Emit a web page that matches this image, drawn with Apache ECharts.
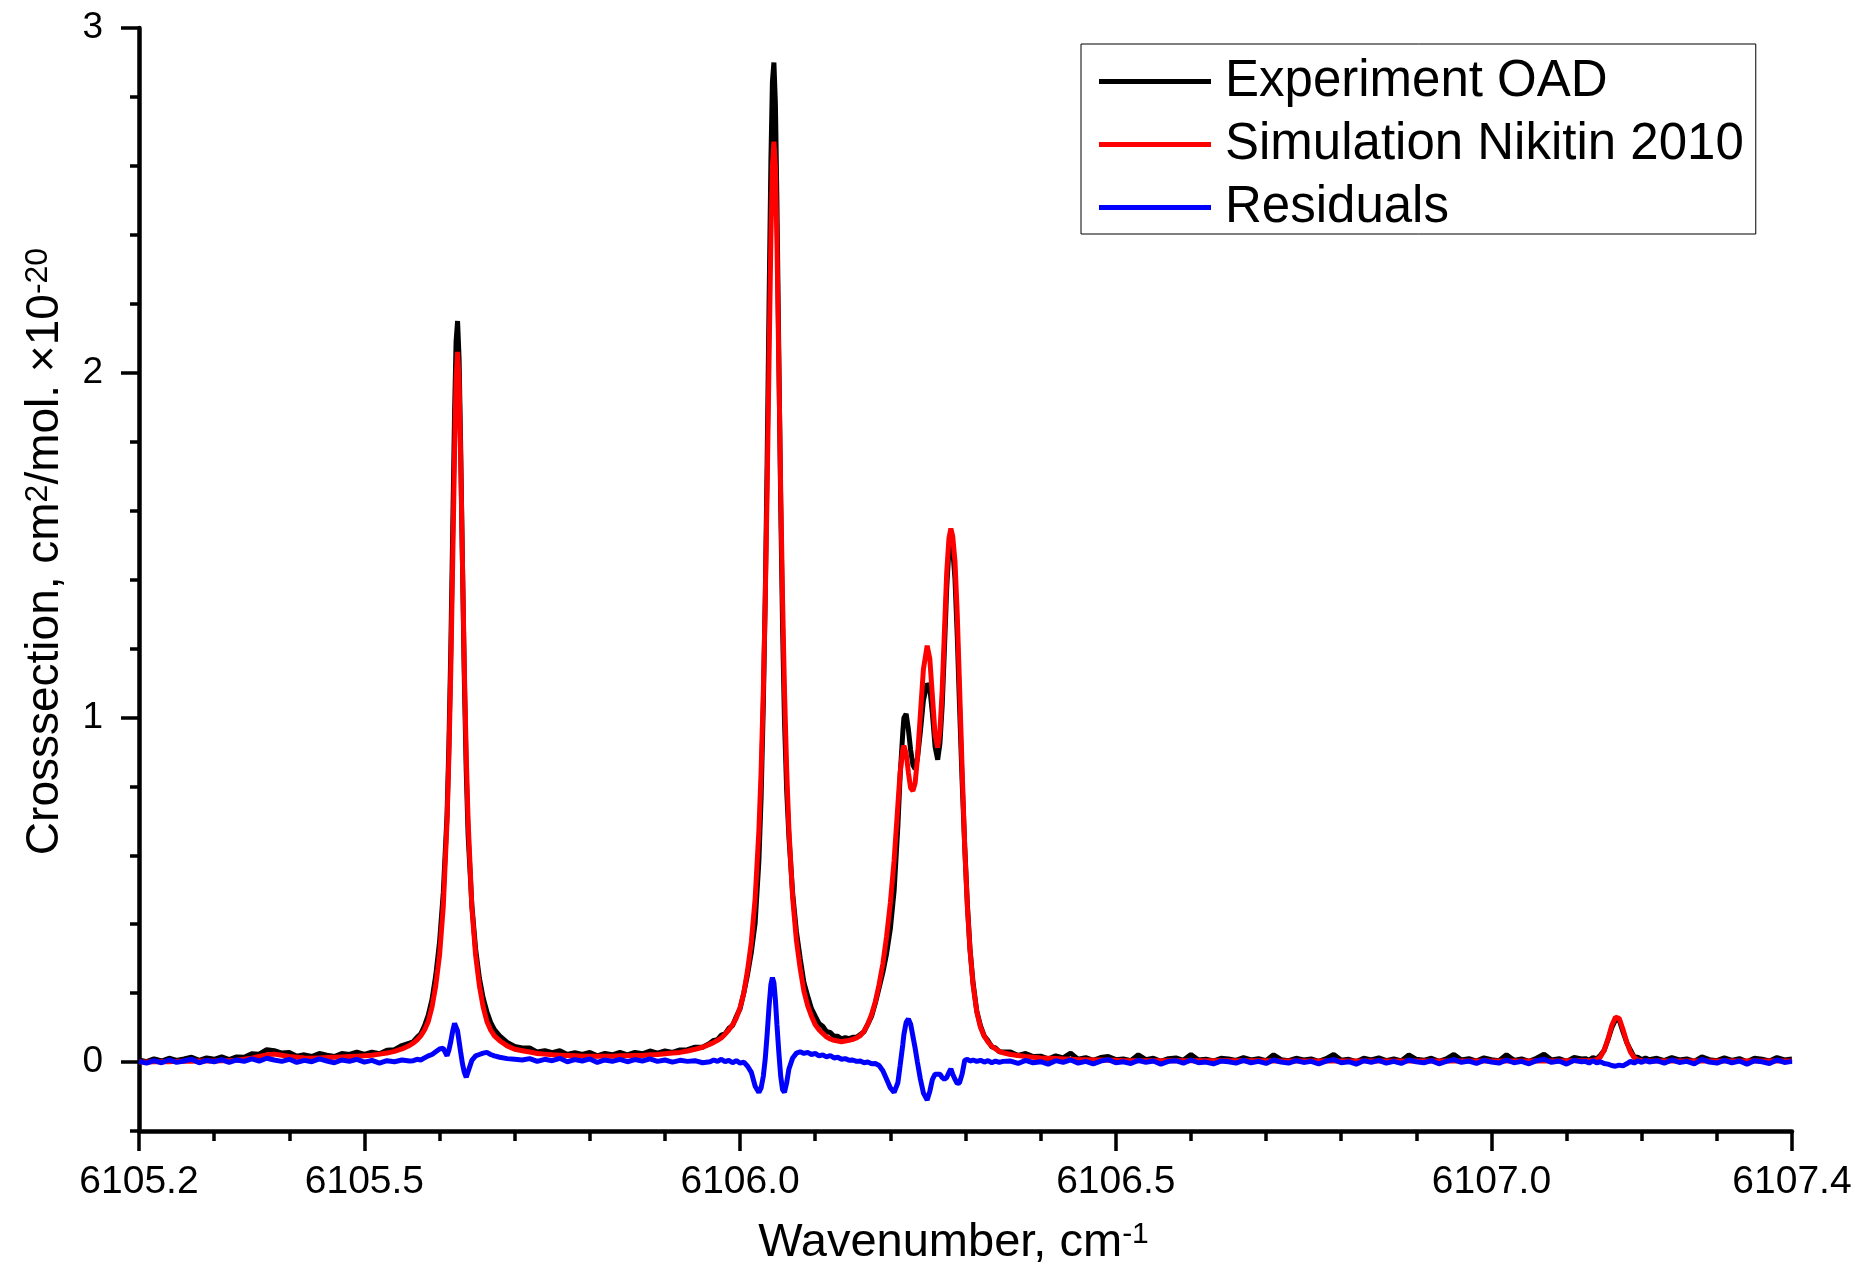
<!DOCTYPE html>
<html>
<head>
<meta charset="utf-8">
<script src="https://cdn.jsdelivr.net/npm/echarts@6/dist/echarts.min.js"></script>
<style>
html,body{margin:0;padding:0;background:#fff;}
#chart{width:1864px;height:1268px;}
</style>
</head>
<body>
<div id="chart"></div>
<script>
// ---------- data ----------
const wavenumber = [
 6105.20,6105.21,6105.22,6105.23,6105.24,6105.25,6105.26,6105.27,6105.28,6105.29,
 6105.30,6105.31,6105.32,6105.33,6105.34,6105.35,6105.36,6105.37,6105.38,6105.39,
 6105.40,6105.41,6105.42,6105.43,6105.44,6105.45,6105.46,6105.47,6105.48,6105.49,
 6105.50,6105.51,6105.52,6105.53,6105.54,6105.55,6105.56,
 6105.565,6105.570,6105.575,6105.580,6105.585,6105.590,6105.595,6105.600,6105.605,6105.610,
 6105.6125,6105.615,6105.6175,6105.620,6105.622,6105.624,6105.626,6105.628,6105.6305,6105.633,
 6105.6355,6105.638,6105.643,6105.648,6105.653,6105.658,6105.663,6105.668,6105.673,6105.680,
 6105.690,6105.700,
 6105.71,6105.72,6105.73,6105.74,6105.75,6105.76,6105.77,6105.78,6105.79,6105.80,
 6105.81,6105.82,6105.83,6105.84,6105.85,6105.86,6105.87,6105.88,6105.89,6105.90,
 6105.91,6105.92,6105.93,6105.94,6105.95,6105.96,
 6105.965,6105.970,6105.975,6105.980,6105.985,6105.990,6105.995,6106.000,
 6106.005,6106.010,6106.015,6106.020,6106.025,
 6106.028,6106.031,6106.0335,6106.036,6106.0385,6106.041,6106.043,6106.045,6106.047,6106.049,6106.0515,6106.054,6106.0565,6106.059,6106.062,6106.065,
 6106.070,6106.075,6106.080,6106.085,6106.090,6106.095,6106.100,6106.105,6106.110,6106.115,
 6106.120,6106.125,6106.130,6106.135,6106.140,6106.145,6106.150,6106.155,6106.160,6106.165,
 6106.170,6106.175,6106.180,6106.185,6106.190,6106.195,6106.200,6106.205,6106.210,
 6106.213,6106.2165,6106.218,6106.221,6106.224,6106.227,6106.230,6106.233,6106.236,6106.240,6106.244,6106.249,6106.2525,6106.256,6106.2595,6106.263,
 6106.266,6106.269,6106.272,6106.275,6106.278,6106.2805,6106.283,6106.286,6106.289,6106.292,6106.2955,6106.299,6106.3025,6106.306,6106.310,
 6106.315,6106.320,6106.325,6106.330,6106.335,6106.340,6106.345,6106.350,
 6106.36,6106.37,6106.38,6106.39,6106.40,6106.41,6106.42,6106.43,6106.44,6106.45,
 6106.46,6106.47,6106.48,6106.49,6106.50,6106.51,6106.52,6106.53,6106.54,6106.55,
 6106.56,6106.57,6106.58,6106.59,6106.60,6106.61,6106.62,6106.63,6106.64,6106.65,
 6106.66,6106.67,6106.68,6106.69,6106.70,6106.71,6106.72,6106.73,6106.74,6106.75,
 6106.76,6106.77,6106.78,6106.79,6106.80,6106.81,6106.82,6106.83,6106.84,6106.85,
 6106.86,6106.87,6106.88,6106.89,6106.90,6106.91,6106.92,6106.93,6106.94,6106.95,
 6106.96,6106.97,6106.98,6106.99,6107.00,6107.01,6107.02,6107.03,6107.04,6107.05,
 6107.06,6107.07,6107.08,6107.09,6107.10,6107.11,6107.12,
 6107.125,6107.130,6107.135,6107.140,6107.145,6107.150,6107.155,6107.160,6107.165,6107.170,
 6107.175,6107.180,6107.185,6107.190,6107.195,6107.200,6107.205,6107.210,
 6107.22,6107.23,6107.24,6107.25,6107.26,6107.27,6107.28,6107.29,6107.30,6107.31,
 6107.32,6107.33,6107.34,6107.35,6107.36,6107.37,6107.38,6107.39,6107.40
];

const experimentOAD = [
 0.006,0.001,0.009,0.003,0.011,0.005,0.009,0.014,0.005,0.012,
 0.008,0.015,0.007,0.015,0.014,0.024,0.023,0.036,0.033,0.026,
 0.028,0.017,0.021,0.016,0.025,0.020,0.016,0.025,0.022,0.029,
 0.022,0.029,0.024,0.034,0.036,0.048,0.055,
 0.059,0.072,0.082,0.105,0.136,0.182,0.252,0.348,0.492,0.718,
 0.925,1.200,1.540,1.882,2.090,2.150,2.040,1.800,1.445,1.110,
 0.846,0.660,0.455,0.328,0.244,0.186,0.146,0.115,0.094,0.076,
 0.057,0.045,
 0.041,0.041,0.029,0.033,0.027,0.033,0.022,0.027,0.022,0.028,
 0.018,0.025,0.021,0.028,0.021,0.028,0.024,0.032,0.026,0.032,
 0.028,0.035,0.036,0.043,0.043,0.055,
 0.063,0.065,0.078,0.082,0.098,0.106,0.132,0.155,
 0.201,0.255,0.319,0.403,0.582,
 0.770,1.043,1.352,1.743,2.190,2.614,2.844,2.900,2.780,2.500,2.060,1.625,1.265,0.997,0.788,0.653,
 0.488,0.378,0.301,0.230,0.191,0.155,0.133,0.112,0.104,0.088,
 0.086,0.075,0.075,0.067,0.071,0.068,0.072,0.072,0.080,0.088,
 0.110,0.133,0.171,0.215,0.260,0.315,0.387,0.497,0.685,
 0.830,0.955,0.998,1.010,0.965,0.905,0.862,0.850,0.880,0.960,1.050,1.098,1.085,1.010,0.915,0.877,
 0.925,1.035,1.200,1.375,1.490,1.528,1.490,1.402,1.238,1.036,0.815,0.625,0.458,0.328,0.231,
 0.148,0.105,0.075,0.062,0.044,0.041,0.030,0.029,
 0.029,0.019,0.025,0.016,0.017,0.009,0.018,0.012,0.026,0.008,
 0.013,0.005,0.013,0.016,0.007,0.009,0.004,0.021,0.007,0.011,
 0.002,0.010,0.012,0.005,0.022,0.006,0.008,0.003,0.011,0.009,
 0.005,0.013,0.006,0.010,0.004,0.021,0.007,0.004,0.011,0.006,
 0.009,0.002,0.010,0.022,0.005,0.008,0.001,0.011,0.006,0.012,
 0.004,0.009,0.003,0.021,0.008,0.005,0.011,0.002,0.009,0.022,
 0.006,0.010,0.003,0.012,0.007,0.004,0.021,0.005,0.009,0.002,
 0.011,0.023,0.006,0.010,0.002,0.013,0.009,
 0.010,0.005,0.013,0.009,0.020,0.034,0.064,0.099,0.122,0.122,
 0.088,0.057,0.035,0.014,0.014,0.007,0.012,0.007,
 0.011,0.004,0.013,0.006,0.009,0.002,0.015,0.007,0.004,0.012,
 0.005,0.010,0.001,0.011,0.008,0.003,0.013,0.006,0.009
];

const simulationNikitin = [
 0.000,0.000,0.001,0.001,0.001,0.002,0.002,0.002,0.003,0.003,
 0.003,0.004,0.004,0.005,0.008,0.011,0.016,0.021,0.023,0.020,
 0.016,0.014,0.012,0.011,0.012,0.013,0.014,0.015,0.016,0.017,
 0.018,0.020,0.023,0.026,0.031,0.038,0.048,
 0.055,0.064,0.076,0.093,0.118,0.160,0.222,0.310,0.452,0.700,
 0.890,1.140,1.450,1.770,1.980,2.060,1.980,1.770,1.450,1.140,
 0.890,0.700,0.450,0.310,0.222,0.160,0.118,0.093,0.076,0.062,
 0.047,0.037,
 0.033,0.029,0.025,0.023,0.021,0.020,0.019,0.018,0.017,0.017,
 0.017,0.017,0.017,0.018,0.018,0.019,0.019,0.021,0.022,0.024,
 0.026,0.028,0.032,0.037,0.043,0.052,
 0.057,0.063,0.070,0.081,0.093,0.108,0.128,0.158,
 0.201,0.267,0.349,0.473,0.670,
 0.845,1.083,1.342,1.663,2.030,2.389,2.599,2.670,2.600,2.390,2.030,1.665,1.345,1.085,0.848,0.673,
 0.476,0.352,0.271,0.205,0.163,0.133,0.108,0.094,0.083,0.073,
 0.067,0.063,0.061,0.059,0.061,0.063,0.066,0.070,0.077,0.090,
 0.110,0.138,0.175,0.225,0.285,0.365,0.462,0.585,0.745,
 0.840,0.905,0.918,0.895,0.840,0.795,0.787,0.810,0.880,1.010,1.140,1.208,1.170,1.060,0.950,0.912,
 0.960,1.080,1.250,1.420,1.520,1.548,1.525,1.452,1.300,1.096,0.850,0.620,0.450,0.325,0.225,
 0.146,0.100,0.075,0.058,0.046,0.038,0.031,0.027,
 0.022,0.019,0.016,0.014,0.012,0.011,0.010,0.009,0.008,0.007,
 0.007,0.006,0.006,0.005,0.005,0.004,0.004,0.004,0.004,0.004,
 0.004,0.004,0.004,0.004,0.004,0.004,0.004,0.004,0.004,0.004,
 0.004,0.004,0.004,0.004,0.004,0.003,0.003,0.003,0.003,0.003,
 0.003,0.003,0.003,0.003,0.003,0.003,0.003,0.003,0.003,0.003,
 0.003,0.003,0.003,0.003,0.003,0.003,0.003,0.003,0.003,0.003,
 0.003,0.003,0.003,0.003,0.003,0.003,0.003,0.003,0.003,0.003,
 0.003,0.003,0.003,0.003,0.004,0.004,0.004,
 0.004,0.004,0.005,0.007,0.015,0.034,0.066,0.105,0.130,0.127,
 0.095,0.058,0.029,0.013,0.006,0.004,0.003,0.003,
 0.003,0.003,0.003,0.003,0.003,0.003,0.003,0.003,0.003,0.003,
 0.003,0.003,0.003,0.003,0.003,0.003,0.003,0.003,0.003
];

const residuals = [
 0.002,-0.003,0.004,-0.002,0.006,-0.001,0.003,0.008,-0.002,0.005,
 0.001,0.007,-0.001,0.006,0.002,0.009,0.003,0.011,0.006,0.002,
 0.008,-0.001,0.005,0.001,0.009,0.003,-0.002,0.006,0.002,0.008,
 0.000,0.005,-0.003,0.004,0.001,0.006,0.003,
 0.004,0.008,0.006,0.012,0.018,0.022,0.030,0.038,0.040,0.018,
 0.035,0.060,0.090,0.112,0.110,0.090,0.060,0.030,-0.005,-0.030,
 -0.044,-0.040,0.005,0.018,0.022,0.026,0.028,0.022,0.018,0.014,
 0.010,0.008,
 0.006,0.010,0.002,0.008,0.004,0.011,0.001,0.007,0.003,0.009,
 -0.001,0.006,0.002,0.008,0.001,0.007,0.003,0.009,0.002,0.006,
 0.000,0.005,0.002,0.004,-0.002,0.001,
 0.006,0.002,0.008,0.001,0.005,-0.002,0.004,-0.003,
 0.000,-0.012,-0.030,-0.070,-0.088,
 -0.075,-0.040,0.010,0.080,0.160,0.225,0.245,0.230,0.180,0.110,0.030,-0.040,-0.080,-0.088,-0.060,-0.020,
 0.012,0.026,0.030,0.025,0.028,0.022,0.025,0.018,0.021,0.015,
 0.019,0.012,0.014,0.008,0.010,0.005,0.006,0.002,0.003,-0.002,
 0.000,-0.005,-0.004,-0.010,-0.025,-0.050,-0.075,-0.088,-0.060,
 -0.010,0.050,0.080,0.115,0.125,0.110,0.075,0.040,0.000,-0.050,-0.090,-0.110,-0.085,-0.050,-0.035,-0.035,
 -0.035,-0.045,-0.050,-0.045,-0.030,-0.020,-0.035,-0.050,-0.062,-0.060,-0.035,0.005,0.008,0.003,0.006,
 0.002,0.005,0.000,0.004,-0.002,0.003,-0.001,0.002,
 0.003,-0.004,0.005,-0.002,0.001,-0.006,0.004,-0.001,0.006,-0.003,
 0.002,-0.005,0.003,0.007,-0.002,0.001,-0.004,0.005,-0.001,0.003,
 -0.006,0.002,0.004,-0.003,0.006,-0.002,0.000,-0.005,0.003,0.001,
 -0.003,0.005,-0.002,0.002,-0.004,0.006,0.000,-0.003,0.004,-0.001,
 0.002,-0.005,0.003,0.007,-0.002,0.001,-0.006,0.004,-0.001,0.005,
 -0.003,0.002,-0.004,0.006,0.001,-0.002,0.004,-0.005,0.002,0.007,
 -0.001,0.003,-0.004,0.005,0.000,-0.003,0.006,-0.002,0.002,-0.005,
 0.004,0.008,-0.001,0.003,-0.006,0.005,0.001,
 0.002,-0.003,0.004,-0.002,0.001,-0.004,-0.006,-0.010,-0.012,-0.009,
 -0.011,-0.005,0.002,-0.003,0.004,-0.001,0.005,0.000,
 0.004,-0.003,0.006,-0.001,0.002,-0.005,0.008,0.000,-0.003,0.005,
 -0.002,0.003,-0.006,0.004,0.001,-0.004,0.006,-0.001,0.002
];

const seriesNames = ['Experiment OAD', 'Simulation Nikitin 2010', 'Residuals'];
const seriesColors = ['#000000', '#ff0000', '#0000ff'];
const xTickLabels = [6105.2, 6105.5, 6106.0, 6106.5, 6107.0, 6107.4];
const yTickLabels = [0, 1, 2, 3];

// ---------- chart ----------
const FONT = "'Liberation Sans', Arial, Helvetica, sans-serif";
const pairs = arr => wavenumber.map((x, i) => [x, arr[i]]);

const chart = echarts.init(document.getElementById('chart'), null, {renderer: 'canvas'});
const axisColor = '#000';

const option = {
  animation: false,
  backgroundColor: '#fff',
  textStyle: {fontFamily: FONT, color: '#000'},
  grid: {left: 139, right: 72, top: 28, bottom: 137, containLabel: false, outerBoundsMode: 'none'},
  legend: {
    orient: 'vertical',
    left: 1081, top: 44,
    padding: [12, 12, 1, 18],
    borderColor: '#000', borderWidth: 1,
    icon: 'rect',
    itemWidth: 112, itemHeight: 5, itemGap: 12,
    textStyle: {fontFamily: FONT, fontSize: 51, lineHeight: 51, color: '#000', padding: [0, 0, 0, 9]},
    data: seriesNames
  },
  xAxis: [
    {
      type: 'value', position: 'bottom', min: 6105.2, max: 6107.4, interval: 0.1,
      axisLine: {show: true, onZero: false, lineStyle: {color: axisColor, width: 4.5}},
      axisTick: {show: true, inside: false, length: 10, lineStyle: {color: axisColor, width: 3.5}},
      axisLabel: {show: false},
      splitLine: {show: false}
    },
    {
      type: 'value', position: 'bottom', min: 6105.2, max: 6107.4,
      axisLine: {show: false, onZero: false},
      axisTick: {show: true, inside: false, length: 20, customValues: xTickLabels, lineStyle: {color: axisColor, width: 3.5}},
      axisLabel: {show: true, customValues: xTickLabels, margin: 32, fontSize: 39, fontFamily: FONT, color: '#000',
        formatter: v => Number(v).toFixed(1)},
      splitLine: {show: false},
      name: '{a|Wavenumber, cm}{s|-1}',
      nameLocation: 'middle', nameGap: 89,
      nameTextStyle: {
        padding: [0, 24, 0, 0],
        rich: {
          a: {fontSize: 47, lineHeight: 47, fontFamily: FONT, color: '#000'},
          s: {fontSize: 30, lineHeight: 40, fontFamily: FONT, color: '#000', verticalAlign: 'top'}
        }
      }
    }
  ],
  yAxis: [
    {
      type: 'value', position: 'left', min: -0.2, max: 3, interval: 0.2,
      axisLine: {show: true, onZero: false, lineStyle: {color: axisColor, width: 4.5}},
      axisTick: {show: true, inside: false, length: 9, lineStyle: {color: axisColor, width: 3.5}},
      axisLabel: {show: false},
      splitLine: {show: false}
    },
    {
      type: 'value', position: 'left', min: -0.2, max: 3,
      axisLine: {show: false, onZero: false},
      axisTick: {show: true, inside: false, length: 18, customValues: yTickLabels, lineStyle: {color: axisColor, width: 3.5}},
      axisLabel: {show: true, customValues: yTickLabels, margin: 36, fontSize: 37, fontFamily: FONT, color: '#000'},
      splitLine: {show: false},
      name: '{a|Crosssection, cm}{s|2}{a|/mol. ×10}{s|-20}',
      nameLocation: 'middle', nameRotate: 90, nameGap: 71,
      nameTextStyle: {
        padding: [0, 0, 0, 56],
        rich: {
          a: {fontSize: 46, lineHeight: 46, fontFamily: FONT, color: '#000'},
          s: {fontSize: 32, lineHeight: 38, fontFamily: FONT, color: '#000', verticalAlign: 'top'}
        }
      }
    }
  ],
  series: seriesNames.map((n, k) => ({
    name: n, type: 'line', xAxisIndex: 0, yAxisIndex: 0,
    symbol: 'none', showSymbol: false, smooth: false,
    lineStyle: {color: seriesColors[k], width: 5},
    itemStyle: {color: seriesColors[k]},
    data: pairs([experimentOAD, simulationNikitin, residuals][k]),
    z: 2 + k
  }))
};
chart.setOption(option);
</script>
</body>
</html>
